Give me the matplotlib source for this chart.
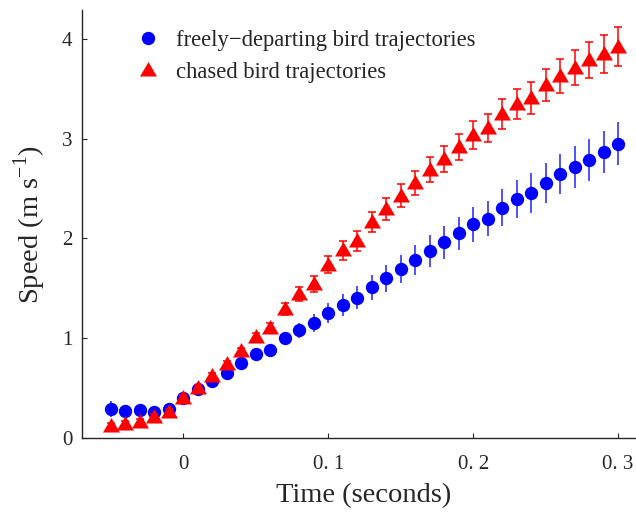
import matplotlib
matplotlib.use("Agg")
import matplotlib.pyplot as plt
from matplotlib.lines import Line2D

plt.rcParams["font.family"] = ["Liberation Serif", "DejaVu Serif"]
plt.rcParams["mathtext.fontset"] = "custom"
plt.rcParams["mathtext.rm"] = "Liberation Serif"

# Time relative to departure (s)
time_s = [-0.05, -0.04, -0.03, -0.02, -0.01, 0.00, 0.01, 0.02, 0.03, 0.04,
          0.05, 0.06, 0.07, 0.08, 0.09, 0.10, 0.11, 0.12, 0.13, 0.14,
          0.15, 0.16, 0.17, 0.18, 0.19, 0.20, 0.21, 0.22, 0.23, 0.24,
          0.25, 0.26, 0.27, 0.28, 0.29, 0.30]

# Mean speed and error for freely-departing birds (m/s)
free_speed = [0.29, 0.27, 0.28, 0.26, 0.29, 0.40, 0.49, 0.575, 0.655, 0.755,
              0.84, 0.885, 1.00, 1.08, 1.155, 1.25, 1.335, 1.405, 1.51, 1.60,
              1.69, 1.78, 1.875, 1.96, 2.05, 2.14, 2.20, 2.31, 2.40, 2.46,
              2.56, 2.65, 2.72, 2.79, 2.87, 2.95]
free_err = [0.08, 0.035, 0.035, 0.035, 0.035, 0.03, 0.03, 0.035, 0.04, 0.045,
            0.05, 0.06, 0.065, 0.075, 0.09, 0.10, 0.11, 0.115, 0.125, 0.135,
            0.14, 0.15, 0.16, 0.165, 0.17, 0.18, 0.18, 0.19, 0.19, 0.20,
            0.20, 0.20, 0.21, 0.21, 0.21, 0.215]

# Mean speed and error for chased birds (m/s)
chased_speed = [0.12, 0.14, 0.165, 0.21, 0.26, 0.40, 0.505, 0.625, 0.745, 0.87,
                1.015, 1.10, 1.295, 1.44, 1.54, 1.735, 1.88, 1.975, 2.165, 2.30,
                2.43, 2.56, 2.69, 2.80, 2.92, 3.04, 3.105, 3.25, 3.35, 3.41,
                3.54, 3.63, 3.71, 3.79, 3.85, 3.92]
chased_err = [0.03, 0.03, 0.03, 0.03, 0.03, 0.03, 0.03, 0.03, 0.03, 0.03,
              0.04, 0.05, 0.06, 0.07, 0.08, 0.085, 0.095, 0.10, 0.105, 0.11,
              0.115, 0.12, 0.125, 0.13, 0.13, 0.14, 0.14, 0.15, 0.15, 0.16,
              0.16, 0.17, 0.175, 0.18, 0.19, 0.195]

x_ticks = [0, 0.1, 0.2, 0.3]
x_tick_labels = ["0", "0. 1", "0. 2", "0. 3"]
y_ticks = [0, 1, 2, 3, 4]

label_free = "freely\u2212departing bird trajectories"
label_chased = "chased bird trajectories"

text_color = "#262626"
blue = "#0000ff"
red = "#ff0000"

# triangle with its centroid near the data point
tri = [(-1.0, -0.71), (1.0, -0.71), (0.0, 1.0)]

fig = plt.figure(figsize=(6.36, 5.14), dpi=100)
ax = fig.add_axes([82 / 636, 76 / 514, (636 - 82) / 636, (438 - 10) / 514])

ax.errorbar(time_s, free_speed, yerr=free_err, fmt="o", color=blue,
            ecolor="#2020ff", elinewidth=1.1, capsize=2.8, capthick=1.1,
            markersize=9.6, markeredgewidth=0, zorder=2)
ax.errorbar(time_s, chased_speed, yerr=chased_err, fmt="none",
            ecolor=red, elinewidth=1.1, capsize=2.8, capthick=1.1, zorder=3)
ax.plot(time_s, chased_speed, linestyle="none", marker=tri, color=red,
        markersize=12.2, markeredgewidth=0, zorder=4)

ax.set_xlim(-0.07, 0.3124)
ax.set_ylim(0, 4.29)
ax.set_xticks(x_ticks)
ax.set_xticklabels(x_tick_labels)
ax.set_yticks(y_ticks)

for side in ("top", "right"):
    ax.spines[side].set_visible(False)
for side in ("left", "bottom"):
    ax.spines[side].set_color(text_color)
    ax.spines[side].set_linewidth(1.0)

ax.tick_params(direction="in", length=3.6, width=0.8, colors=text_color,
               labelsize=15)
ax.tick_params(axis="x", pad=12)
ax.tick_params(axis="y", pad=7)

ax.set_xlabel("Time (seconds)", fontsize=20.5, color=text_color)
ax.xaxis.set_label_coords((364 - 82) / 554, -0.135)
ax.xaxis.label.set_verticalalignment("center")
ax.set_ylabel("Speed (m s$^{-1}$)", fontsize=20.5, color=text_color, labelpad=10)

handles = [
    Line2D([], [], linestyle="none", marker="o", color=blue,
           markersize=9.6, markeredgewidth=0),
    Line2D([], [], linestyle="none", marker=tri, color=red,
           markersize=12.2, markeredgewidth=0),
]
leg = ax.legend(handles, [label_free, label_chased], loc="upper left",
                bbox_to_anchor=(0.07, 0.99), frameon=False, fontsize=16.3,
                handlelength=1.0, handletextpad=0.75, labelspacing=0.46,
                borderaxespad=0.3)
for t in leg.get_texts():
    t.set_color(text_color)

fig.savefig("out.png", dpi=100)
